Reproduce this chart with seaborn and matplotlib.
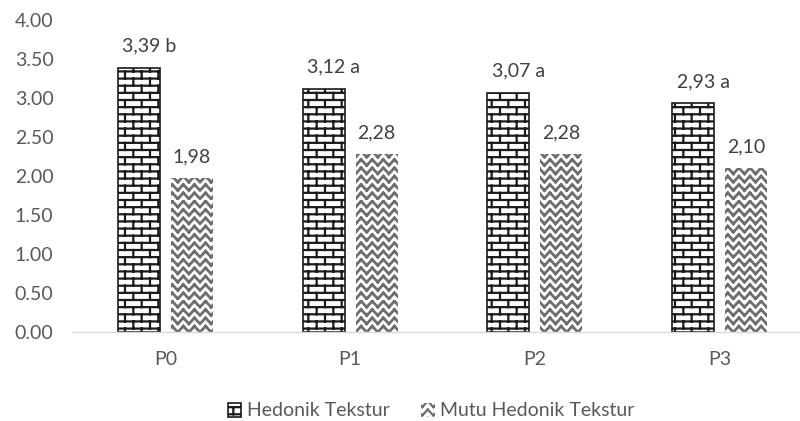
import numpy as np
import pandas as pd
import matplotlib
matplotlib.use('Agg')
import matplotlib.pyplot as plt
import matplotlib.hatch as mhatch
from matplotlib.path import Path
import seaborn as sns

# ---------------- data ----------------
categories = ['P0', 'P1', 'P2', 'P3']
series_names = ['Hedonik Tekstur', 'Mutu Hedonik Tekstur']
hedonik = [3.39, 3.12, 3.07, 2.93]
mutu = [1.98, 2.28, 2.28, 2.10]
hedonik_labels = ['3,39 b', '3,12 a', '3,07 a', '2,93 a']
mutu_labels = ['1,98', '2,28', '2,28', '2,10']
yticks = [0.0, 0.5, 1.0, 1.5, 2.0, 2.5, 3.0, 3.5, 4.0]


# ---------------- custom hatch patterns (brick, zigzag) ----------------
class _SegHatch(mhatch.HatchPatternBase):
    char = None

    def __init__(self, hatch, density):
        self.segs = self.make_segs() if (self.char in hatch) else []
        self.num_vertices = 2 * len(self.segs)

    def make_segs(self):
        return []

    def set_vertices_and_codes(self, vertices, codes):
        s = np.array(self.segs, dtype=float)
        vertices[0::2] = s[:, 0:2]
        vertices[1::2] = s[:, 2:4]
        codes[0::2] = Path.MOVETO
        codes[1::2] = Path.LINETO


class BrickHatch(_SegHatch):
    char = 'O'

    def make_segs(self):
        rows, cols = 14, 6
        segs = []
        for k in range(rows + 1):
            y = k / rows
            segs.append((0.0, y, 1.0, y))
        for k in range(rows):
            y0, y1 = k / rows, (k + 1) / rows
            if k % 2 == 0:
                xs = [j / cols for j in range(cols + 1)]
            else:
                xs = [(j + 0.5) / cols for j in range(cols)]
            for x in xs:
                segs.append((x, y0, x, y1))
        return segs


class ZigHatch(_SegHatch):
    char = '*'

    def make_segs(self):
        rows, cols = 12, 9
        segs = []
        for r in range(rows):
            y0, y1 = (r + 0.15) / rows, (r + 0.85) / rows
            for c in range(cols):
                xa, xm, xb = c / cols, (c + 0.5) / cols, (c + 1) / cols
                segs.append((xa, y0, xm, y1))
                segs.append((xm, y1, xb, y0))
        return segs


mhatch._hatch_types = [t for t in mhatch._hatch_types
                       if t not in (mhatch.LargeCircles, mhatch.Stars)] + [BrickHatch, ZigHatch]

# ---------------- style ----------------
sns.set_theme(style='white')
plt.rcParams['font.family'] = ['Lato', 'DejaVu Sans']
plt.rcParams['hatch.linewidth'] = 1.6
TXT = '#595959'
FS = 14

df = pd.DataFrame({
    'cat': categories * 2,
    'val': hedonik + mutu,
    'series': [series_names[0]] * len(categories) + [series_names[1]] * len(categories),
})

fig = plt.figure(figsize=(8, 4.21), dpi=100)
ax = fig.add_axes([73 / 800, 89 / 421, 739 / 800, 312 / 421])

sns.barplot(data=df, x='cat', y='val', hue='series', order=categories,
            hue_order=series_names, palette=['white', 'white'], saturation=1,
            width=0.574, gap=0.208, legend=False, ax=ax, errorbar=None)

hed_bars = ax.containers[0]
mutu_bars = ax.containers[1]
for p in hed_bars.patches:
    p.set_hatch('O')
    p.set_edgecolor('#1a1a1a')
    p.set_linewidth(1.2)
for p in mutu_bars.patches:
    p.set_hatch('*')
    p.set_edgecolor('#6e6e6e')
    p.set_linewidth(0)
    if hasattr(p, 'set_hatch_linewidth'):
        p.set_hatch_linewidth(2.0)

# data labels
for p, lab in zip(hed_bars.patches, hedonik_labels):
    ax.annotate(lab, (p.get_x() + p.get_width() / 2, p.get_height()),
                xytext=(10, 22), textcoords='offset pixels', ha='center', va='center',
                fontsize=FS, color='#404040')
for p, lab in zip(mutu_bars.patches, mutu_labels):
    ax.annotate(lab, (p.get_x() + p.get_width() / 2, p.get_height()),
                xytext=(0, 21), textcoords='offset pixels', ha='center', va='center',
                fontsize=FS, color='#404040')

ax.set_ylim(0, 4)
ax.set_yticks(yticks)
ax.set_yticklabels([f'{v:.2f}' for v in yticks])
ax.set_xlabel('')
ax.set_ylabel('')
for s in ['top', 'right', 'left']:
    ax.spines[s].set_visible(False)
ax.spines['bottom'].set_color('#d9d9d9')
ax.spines['bottom'].set_linewidth(1.0)
ax.tick_params(axis='both', length=0, labelsize=FS, colors=TXT)
ax.tick_params(axis='y', pad=14)
ax.tick_params(axis='x', pad=14)
ax.grid(False)

handles = [hed_bars.patches[0], mutu_bars.patches[0]]
fig.legend(handles, series_names, loc='center', bbox_to_anchor=(0.539, 1 - 411 / 421),
           ncol=2, frameon=False, fontsize=FS, labelcolor=TXT,
           handlelength=0.7, handleheight=0.7, handletextpad=0.3, columnspacing=1.6)

fig.savefig('out.png', dpi=100)
